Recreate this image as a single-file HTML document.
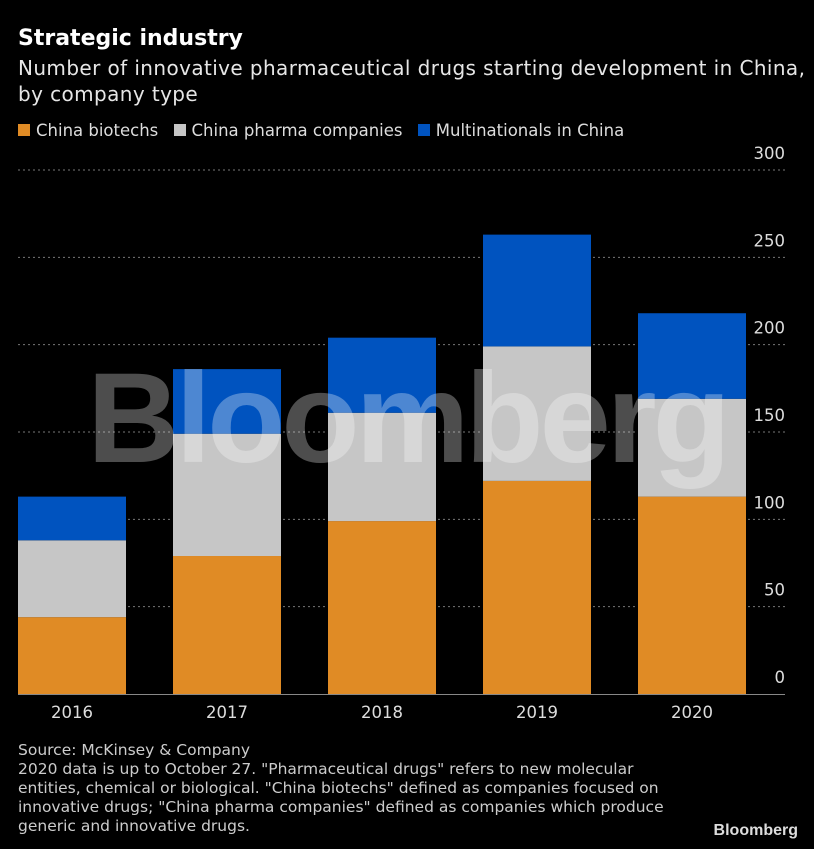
<!DOCTYPE html>
<html><head><meta charset="utf-8">
<style>
body{margin:0;background:#000;width:814px;height:849px;overflow:hidden;font-family:"DejaVu Sans","Liberation Sans",sans-serif;color:#fff;position:relative}
.t{position:absolute;left:18px;white-space:nowrap}
</style></head><body>
<div class="t" style="top:26px;font-size:22px;font-weight:bold">Strategic industry</div>
<div class="t" style="top:55px;font-size:20px;line-height:26px;color:#e6e6e6;letter-spacing:0.4px">Number of innovative pharmaceutical drugs starting development in China,<br>by company type</div>
<div class="t" style="top:121px;font-size:16.5px;color:#ddd">
<span><span style="display:inline-block;width:12px;height:12px;background:#e08b25;margin-right:6px"></span>China biotechs</span>
<span style="margin-left:10px"><span style="display:inline-block;width:12px;height:12px;background:#c6c6c6;margin-right:6px"></span>China pharma companies</span>
<span style="margin-left:10px"><span style="display:inline-block;width:12px;height:12px;background:#0053bf;margin-right:6px"></span>Multinationals in China</span>
</div>
<svg id="chart" width="814" height="849" style="position:absolute;left:0;top:0"></svg>
<div class="t" style="top:741px;font-size:15.5px;line-height:19px;color:#ccc">Source: McKinsey &amp; Company<br>2020 data is up to October 27. "Pharmaceutical drugs" refers to new molecular<br>entities, chemical or biological. "China biotechs" defined as companies focused on<br>innovative drugs; "China pharma companies" defined as companies which produce<br>generic and innovative drugs.</div>
<div style="position:absolute;right:16px;top:822px;font-size:16px;font-weight:bold;color:#ddd;font-family:'Liberation Sans',sans-serif">Bloomberg</div>
<script>
const categories=["2016","2017","2018","2019","2020"];
const biotechs=[44,79,99,122,113];
const pharma=[44,70,62,77,56];
const multinationals=[25,37,43,64,49];
const yTicks=[0,50,100,150,200,250,300];
const svg=document.getElementById('chart');
const NS='http://www.w3.org/2000/svg';
const y0=694,yTop=170,yMax=300;
const y=v=>y0-(v/yMax)*(y0-yTop);
const x=i=>18+i*155;
const bw=108;
function mk(tag,attrs){const e=document.createElementNS(NS,tag);for(const k in attrs)e.setAttribute(k,attrs[k]);svg.appendChild(e);return e;}
yTicks.forEach(t=>{
  if(t>0){const l=mk('line',{x1:18,x2:785,y1:y(t),y2:y(t),stroke:'#777','stroke-dasharray':'2,3','stroke-width':1});
  
  }
  const tx=mk('text',{x:785,y:y(t)-11,'text-anchor':'end',fill:'#ddd','font-size':16.5,'font-family':'DejaVu Sans, sans-serif'});
  tx.textContent=t;
  
  
});
const series=[[biotechs,'#e08b25','biotechs'],[pharma,'#c6c6c6','pharma'],[multinationals,'#0053bf','multinationals']];
categories.forEach((c,i)=>{
  let base=0;
  series.forEach(([arr,col,nm])=>{
    const r=mk('rect',{x:x(i),y:y(base+arr[i]),width:bw,height:y(base)-y(base+arr[i]),fill:col});
    
    
    base+=arr[i];
  });
  const tx=mk('text',{x:x(i)+bw/2,y:718,'text-anchor':'middle',fill:'#ddd','font-size':16.5,'font-family':'DejaVu Sans, sans-serif'});
  tx.textContent=c;
  
  
});
const ax=mk('line',{x1:18,x2:785,y1:y0+0.5,y2:y0+0.5,stroke:'#888','stroke-width':1});


const wm=mk('text',{x:407,y:462,'text-anchor':'middle',fill:'#ffffff','fill-opacity':0.3,'font-size':128,'font-weight':'bold','font-family':'Liberation Sans, sans-serif','letter-spacing':-4});
wm.textContent='Bloomberg';


</script>
</body></html>
